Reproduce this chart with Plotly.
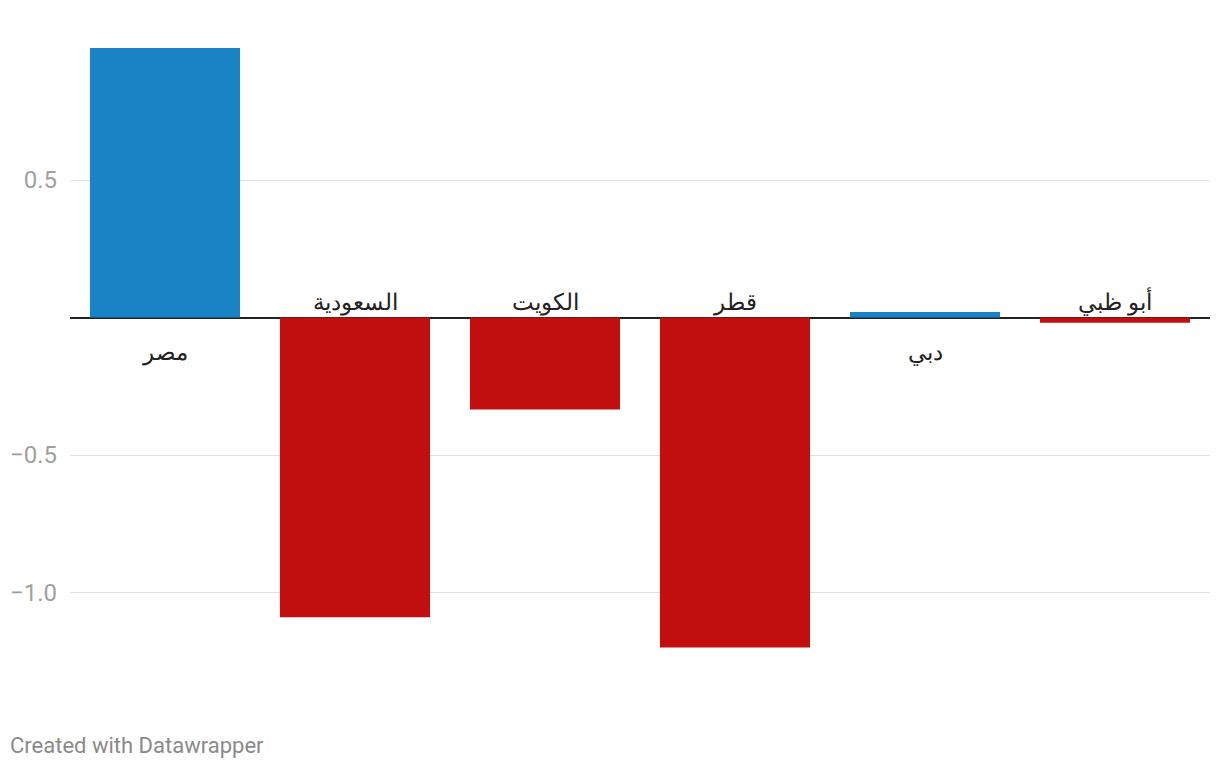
import plotly.graph_objects as go

# data
regions = ["مصر", "السعودية", "الكويت", "قطر", "دبي", "أبو ظبي"]
values = [0.98, -1.09, -0.335, -1.2, 0.02, -0.019]
tick_vals = [-1.0, -0.5, 0.5]
tick_text = ["\u22121.0", "\u22120.5", "0.5"]

BLUE = "#1a83c6"
RED = "#c10f0f"
colors = [BLUE if v >= 0 else RED for v in values]

fig = go.Figure(go.Bar(
    x=regions, y=values,
    marker=dict(color=colors, line=dict(width=0)),
    hoverinfo="x+y",
))

# category labels sit next to the zero line, on the side away from the bar
for name, v in zip(regions, values):
    if v >= 0:
        fig.add_annotation(x=name, y=0, text=name, showarrow=False,
                           yanchor="top", yshift=-19,
                           font=dict(size=23, color="#222"))
    else:
        fig.add_annotation(x=name, y=0, text=name, showarrow=False,
                           yanchor="bottom", yshift=0,
                           font=dict(size=23, color="#222"))

fig.add_annotation(xref="paper", yref="paper", x=0, y=0, xshift=-62, yshift=-70,
                   xanchor="left", yanchor="middle", showarrow=False,
                   text="Created with Datawrapper",
                   font=dict(size=22, color="#8a8a8a"))

# page body has an 8px margin, so the figure is 16px smaller than the window
fig.update_layout(
    width=1204, height=752,
    margin=dict(l=62, r=2, t=22, b=85),
    plot_bgcolor="white", paper_bgcolor="white",
    font=dict(family="Roboto, 'Noto Sans', sans-serif"),
    bargap=0.21,
    showlegend=False,
    xaxis=dict(showticklabels=False, showgrid=False, zeroline=False,
               showline=False, ticks=""),
    yaxis=dict(range=[-1.3, 1.04545], tickvals=tick_vals, ticktext=tick_text,
               showgrid=True, gridcolor="#e0e0e0", gridwidth=1,
               zeroline=True, zerolinecolor="#222", zerolinewidth=2,
               showline=False, ticks="", ticklabelstandoff=12,
               tickfont=dict(size=24, color="#a0a0a0")),
)

fig.write_html("out.html")
